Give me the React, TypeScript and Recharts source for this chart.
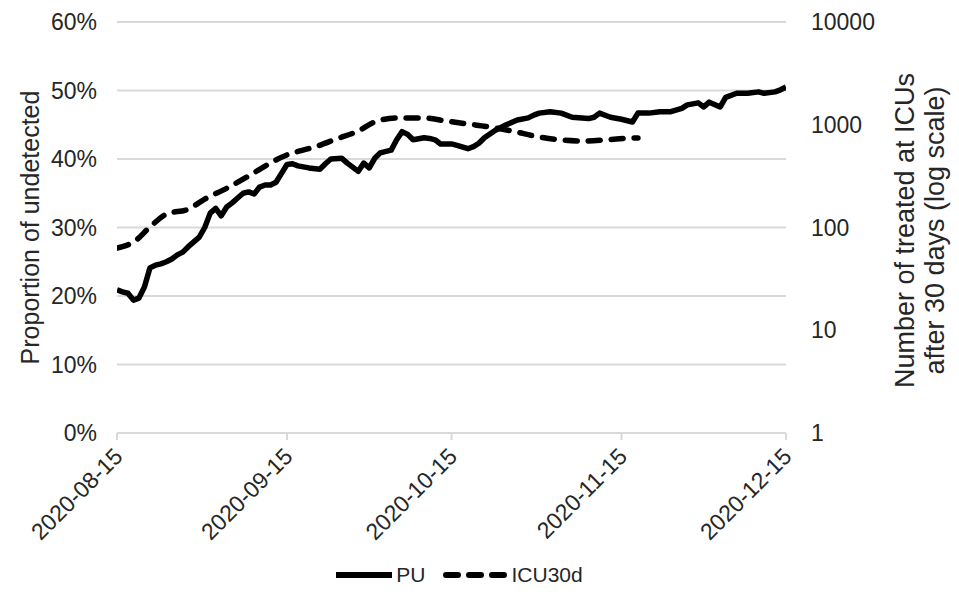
import React from "react";
import { LineChart, Line, XAxis, YAxis, CartesianGrid, Legend } from "recharts";

// PU: proportion of undetected (%)
const puDates = [
  "2020-08-15", "2020-08-16", "2020-08-17", "2020-08-18", "2020-08-19", "2020-08-20",
  "2020-08-21", "2020-08-22", "2020-08-23", "2020-08-24", "2020-08-25", "2020-08-26",
  "2020-08-27", "2020-08-28", "2020-08-30", "2020-08-31", "2020-09-01", "2020-09-02",
  "2020-09-03", "2020-09-04", "2020-09-05", "2020-09-06", "2020-09-07", "2020-09-08",
  "2020-09-09", "2020-09-10", "2020-09-11", "2020-09-12", "2020-09-13", "2020-09-14",
  "2020-09-15", "2020-09-16", "2020-09-17", "2020-09-19", "2020-09-21", "2020-09-22",
  "2020-09-23", "2020-09-25", "2020-09-26", "2020-09-28", "2020-09-29", "2020-09-30",
  "2020-10-01", "2020-10-02", "2020-10-04", "2020-10-05", "2020-10-06", "2020-10-07",
  "2020-10-08", "2020-10-10", "2020-10-11", "2020-10-12", "2020-10-13", "2020-10-15",
  "2020-10-16", "2020-10-18", "2020-10-19", "2020-10-20", "2020-10-21", "2020-10-23",
  "2020-10-25", "2020-10-27", "2020-10-29", "2020-10-30", "2020-10-31", "2020-11-02",
  "2020-11-04", "2020-11-06", "2020-11-09", "2020-11-10", "2020-11-11", "2020-11-13",
  "2020-11-15", "2020-11-17", "2020-11-18", "2020-11-20", "2020-11-22", "2020-11-24",
  "2020-11-26", "2020-11-27", "2020-11-29", "2020-11-30", "2020-12-01", "2020-12-03",
  "2020-12-04", "2020-12-06", "2020-12-08", "2020-12-10", "2020-12-11", "2020-12-13",
  "2020-12-14", "2020-12-15",
];
const puValues = [
  20.9, 20.6, 20.4, 19.4, 19.7, 21.3,
  24.1, 24.5, 24.7, 25.0, 25.4, 26.0,
  26.4, 27.2, 28.6, 30.0, 32.1, 32.8,
  31.7, 33.0, 33.6, 34.3, 35.0, 35.2,
  34.9, 35.9, 36.2, 36.2, 36.6, 37.9,
  39.2, 39.3, 39.0, 38.7, 38.5, 39.3,
  40.0, 40.1, 39.4, 38.2, 39.4, 38.7,
  40.1, 40.9, 41.3, 42.8, 44.0, 43.6,
  42.8, 43.1, 43.0, 42.8, 42.2, 42.2,
  42.0, 41.5, 41.8, 42.3, 43.1, 44.2,
  45.0, 45.7, 46.0, 46.4, 46.7, 46.9,
  46.7, 46.1, 45.9, 46.1, 46.7, 46.1,
  45.8, 45.4, 46.7, 46.7, 46.9, 46.9,
  47.4, 47.9, 48.2, 47.6, 48.3, 47.6,
  49.0, 49.6, 49.6, 49.8, 49.6, 49.8,
  50.1, 50.5,
];

// ICU30d: number treated at ICUs after 30 days (log axis)
const icuDates = [
  "2020-08-15", "2020-08-16", "2020-08-18", "2020-08-21", "2020-08-24", "2020-08-28",
  "2020-08-31", "2020-09-04", "2020-09-08", "2020-09-11", "2020-09-15", "2020-09-17",
  "2020-09-20", "2020-09-24", "2020-09-28", "2020-10-01", "2020-10-05", "2020-10-10",
  "2020-10-14", "2020-10-18", "2020-10-22", "2020-10-26", "2020-10-31", "2020-11-04",
  "2020-11-08", "2020-11-12", "2020-11-17", "2020-11-18",
];
const icuValues = [
  63, 65, 72, 101, 135, 151,
  189, 241, 317, 396, 509, 550,
  607, 727, 869, 1064, 1164, 1164,
  1087, 1017, 951, 869, 760, 711,
  695, 711, 743, 745,
];

const dateTicks = ["2020-08-15", "2020-09-15", "2020-10-15", "2020-11-15", "2020-12-15"];
const pctTicks = [0, 10, 20, 30, 40, 50, 60];
const logTicks = [1, 10, 100, 1000, 10000];

const FONT = '"Liberation Sans", Arial, sans-serif';
const TEXT = "#262626";
const GRID = "#d9d9d9";

const dayOf = (s: string) => (Date.parse(s) - Date.parse(dateTicks[0])) / 86400000;
const labelOf = (d: number) => new Date(Date.parse(dateTicks[0]) + d * 86400000).toISOString().slice(0, 10);

const puData = puDates.map((d, i) => ({ day: dayOf(d), pu: puValues[i] }));
const icuData = icuDates.map((d, i) => ({ day: dayOf(d), icu: icuValues[i] }));

const DateTick = (props: any) => {
  const { x, y, payload } = props;
  return (
    <g transform={`translate(${x},${y})`}>
      <text
        x={7}
        y={18}
        transform="rotate(-45, 7, 18)"
        textAnchor="end"
        fill={TEXT}
        fontSize={23}
        fontFamily={FONT}
      >
        {labelOf(payload.value)}
      </text>
    </g>
  );
};

const LeftTitle = (props: any) => {
  const { viewBox } = props;
  const cx = viewBox.x + 22;
  const cy = viewBox.y + viewBox.height / 2;
  return (
    <text
      x={cx}
      y={cy}
      transform={`rotate(-90, ${cx}, ${cy})`}
      textAnchor="middle"
      dominantBaseline="central"
      fill={TEXT}
      fontSize={25}
      fontFamily={FONT}
    >
      Proportion of undetected
    </text>
  );
};

const RightTitle = (props: any) => {
  const { viewBox } = props;
  const cy = viewBox.y + viewBox.height / 2 + 3;
  const lines = ["Number of treated at ICUs", "after 30 days (log scale)"];
  return (
    <g>
      {lines.map((t, i) => {
        const cx = viewBox.x + 119 + i * 30;
        return (
          <text
            key={t}
            x={cx}
            y={cy}
            transform={`rotate(-90, ${cx}, ${cy})`}
            textAnchor="middle"
            dominantBaseline="central"
            fill={TEXT}
            fontSize={27}
            fontFamily={FONT}
          >
            {t}
          </text>
        );
      })}
    </g>
  );
};

const renderLegend = () => (
  <div
    style={{
      display: "flex",
      justifyContent: "center",
      alignItems: "center",
      height: 40,
      fontFamily: FONT,
      fontSize: 21,
      color: TEXT,
    }}
  >
    <svg width={60} height={10} style={{ marginRight: 2 }}>
      <line x1={2} y1={5} x2={58} y2={5} stroke="#000" strokeWidth={6} />
    </svg>
    <span>PU</span>
    <svg width={64} height={10} style={{ marginLeft: 18, marginRight: 4 }}>
      <line x1={3} y1={5} x2={61} y2={5} stroke="#000" strokeWidth={6} strokeDasharray="12 11" strokeLinecap="round" />
    </svg>
    <span>ICU30d</span>
  </div>
);

export default function App() {
  return (
    <div style={{ width: 951, height: 597, fontFamily: FONT }}>
      <LineChart width={951} height={597} margin={{ top: 14, right: 0, bottom: 10, left: 0 }}>
        <CartesianGrid yAxisId="left" vertical={false} stroke={GRID} strokeWidth={2} />
        <XAxis
          type="number"
          dataKey="day"
          domain={[0, 122]}
          ticks={dateTicks.map(dayOf)}
          allowDataOverflow
          height={122}
          interval={0}
          axisLine={{ stroke: GRID, strokeWidth: 2 }}
          tickLine={{ stroke: GRID, strokeWidth: 2 }}
          tickSize={7}
          tickMargin={0}
          tick={<DateTick />}
        />
        <YAxis
          yAxisId="left"
          domain={[0, 60]}
          ticks={pctTicks}
          tickFormatter={(v: number) => `${v}%`}
          width={109}
          axisLine={false}
          tickLine={false}
          tickSize={0}
          tickMargin={20}
          tick={{ fill: TEXT, fontSize: 23, fontFamily: FONT }}
          label={<LeftTitle />}
        />
        <YAxis
          yAxisId="right"
          orientation="right"
          scale="log"
          domain={[1, 10000]}
          ticks={logTicks}
          allowDataOverflow
          width={173}
          axisLine={false}
          tickLine={false}
          tickSize={0}
          tickMargin={25}
          tick={{ fill: TEXT, fontSize: 23, fontFamily: FONT, textAnchor: "start" }}
          label={<RightTitle />}
        />
        <Legend
          verticalAlign="bottom"
          content={renderLegend}
          wrapperStyle={{ left: 0, width: 901 }}
        />
        <Line
          yAxisId="left"
          data={puData}
          dataKey="pu"
          name="PU"
          stroke="#000"
          strokeWidth={5.5}
          strokeLinejoin="round"
          dot={false}
          isAnimationActive={false}
        />
        <Line
          yAxisId="right"
          data={icuData}
          dataKey="icu"
          name="ICU30d"
          stroke="#000"
          strokeWidth={5.5}
          strokeDasharray="12 11"
          strokeLinecap="round"
          type="monotone"
          dot={false}
          isAnimationActive={false}
        />
      </LineChart>
    </div>
  );
}
